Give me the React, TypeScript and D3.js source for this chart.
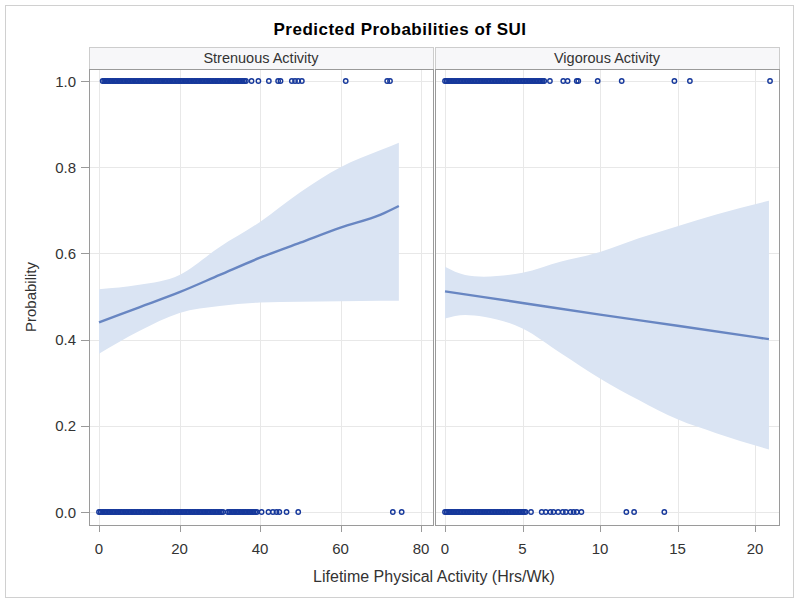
import React from "react";
import * as d3 from "d3";

// ---------- data ----------
const panels = ["Strenuous Activity", "Vigorous Activity"];
const yTicks = [0, 0.2, 0.4, 0.6, 0.8, 1.0];
const strenTicks = [0, 20, 40, 60, 80];
const vigTicks = [0, 5, 10, 15, 20];

const strenFitX = [0, 10, 20, 30, 40, 50, 60, 70, 74.5];
const strenFitP = [0.44, 0.475, 0.51, 0.55, 0.59, 0.625, 0.66, 0.69, 0.71];
const strenUpper = [0.517, 0.527, 0.55, 0.615, 0.673, 0.742, 0.8, 0.84, 0.857];
const strenLower = [0.367, 0.42, 0.462, 0.478, 0.486, 0.488, 0.489, 0.49, 0.49];

const vigFitX = [0, 5, 10, 15, 20.9];
const vigFitP = [0.512, 0.485, 0.458, 0.432, 0.401];
const vigBandX = [0, 1.3, 2.5, 5, 7.5, 10, 12.5, 15, 17.5, 20.9];
const vigUpper = [0.569, 0.55, 0.546, 0.555, 0.581, 0.603, 0.635, 0.663, 0.69, 0.722];
const vigLower = [0.449, 0.457, 0.453, 0.426, 0.368, 0.31, 0.26, 0.215, 0.183, 0.145];

// observed outcomes (1 = SUI, 0 = no SUI), hours per week
const strenYes = [
  0.9, 1.3, 1.7, 2.1, 2.5, 2.9, 3.3, 3.7, 4.1, 4.5, 4.9, 5.3, 5.7, 6.1, 6.5, 6.9, 7.3, 7.7,
  8.1, 8.5, 8.9, 9.3, 9.7, 10.1, 10.5, 10.9, 11.3, 11.7, 12.1, 12.5, 12.9, 13.3, 13.7, 14.1,
  14.5, 14.9, 15.3, 15.7, 16.1, 16.5, 16.9, 17.3, 17.7, 18.1, 18.5, 18.9, 19.3, 19.7, 20.1,
  20.5, 20.9, 21.3, 21.7, 22.1, 22.5, 22.9, 23.3, 23.7, 24.1, 24.5, 24.9, 25.3, 25.7, 26.1,
  26.5, 26.9, 27.3, 27.7, 28.1, 28.5, 28.9, 29.3, 29.7, 30.1, 30.5, 30.9, 31.3, 31.7, 32.1,
  32.5, 32.9, 33.3, 33.7, 34.1, 34.5, 34.9, 35.3, 35.7, 36.1, 36.5, 37.9, 39.6, 42.2, 44.5,
  45.1, 47.9, 48.7, 49.5, 50.4, 61.3, 71.6, 72.3,
];
const strenNo = [
  0, 0.4, 0.8, 1.2, 1.6, 2.0, 2.4, 2.8, 3.2, 3.6, 4.0, 4.4, 4.8, 5.2, 5.6, 6.0, 6.4, 6.8, 7.2,
  7.6, 8.0, 8.4, 8.8, 9.2, 9.6, 10.0, 10.4, 10.8, 11.2, 11.6, 12.0, 12.4, 12.8, 13.2, 13.6,
  14.0, 14.4, 14.8, 15.2, 15.6, 16.0, 16.4, 16.8, 17.2, 17.6, 18.0, 18.4, 18.8, 19.2, 19.6,
  20.0, 20.4, 20.8, 21.2, 21.6, 22.0, 22.4, 22.8, 23.2, 23.6, 24.0, 24.4, 24.8, 25.2, 25.6,
  26.0, 26.4, 26.8, 27.2, 27.6, 28.0, 28.4, 28.8, 29.2, 29.6, 30.0, 30.4, 30.8, 32.0, 32.4,
  32.8, 33.2, 33.6, 34.0, 34.4, 34.8, 35.2, 35.6, 36.0, 36.4, 36.8, 37.2, 37.6, 38.0, 38.4,
  38.8, 39.2, 40.4, 42.1, 43.2, 44.1, 44.8, 46.6, 49.5, 73.0, 75.2,
];
const vigYes = [
  0, 0.1, 0.2, 0.3, 0.4, 0.5, 0.6, 0.7, 0.8, 0.9, 1.0, 1.1, 1.2, 1.3, 1.4, 1.5, 1.6, 1.7,
  1.8, 1.9, 2.0, 2.1, 2.2, 2.3, 2.4, 2.5, 2.6, 2.7, 2.8, 2.9, 3.0, 3.1, 3.2, 3.3, 3.4, 3.5,
  3.6, 3.7, 3.8, 3.9, 4.0, 4.1, 4.2, 4.3, 4.4, 4.5, 4.6, 4.7, 4.8, 4.9, 5.0, 5.1, 5.2, 5.3,
  5.4, 5.5, 5.6, 5.7, 5.8, 5.9, 6.0, 6.1, 6.2, 6.3, 6.4, 6.77, 7.63, 7.91, 8.5, 8.6, 9.85,
  11.4, 14.8, 15.8, 20.97,
];
const vigNo = [
  0, 0.1, 0.2, 0.3, 0.4, 0.5, 0.6, 0.7, 0.8, 0.9, 1.0, 1.1, 1.2, 1.3, 1.4, 1.5, 1.6, 1.7,
  1.8, 1.9, 2.0, 2.1, 2.2, 2.3, 2.4, 2.5, 2.6, 2.7, 2.8, 2.9, 3.0, 3.1, 3.2, 3.3, 3.4, 3.5,
  3.6, 3.7, 3.8, 3.9, 4.0, 4.1, 4.2, 4.3, 4.4, 4.5, 4.6, 4.7, 4.8, 4.9, 5.0, 5.1, 5.2, 5.55,
  6.24, 6.5, 6.8, 7.0, 7.3, 7.6, 7.8, 8.1, 8.3, 8.5, 8.8, 11.7, 12.2, 14.15,
];

// ---------- layout ----------
const W = 800;
const H = 603;
const plotTop = 69;
const plotBottom = 525;
const headTop = 47;
const FONT = "'Liberation Sans', Arial, sans-serif";
const TXT = "#333333";
const GRID = "#e8e8e8";
const BORDER = "#9a9a9a";
const MARK = "#16389b";
const FIT = "#6886c2";
const BAND = "#dae4f3";

const y = d3.scaleLinear().domain([0, 1]).range([512, 81]);
const xS = d3.scaleLinear().domain([0, 80]).range([99, 421]);
const xV = d3.scaleLinear().domain([0, 20]).range([445, 755]);

type PanelDef = {
  name: string;
  left: number;
  right: number;
  x: d3.ScaleLinear<number, number>;
  ticks: number[];
  fitX: number[];
  fitP: number[];
  bandX: number[];
  upper: number[];
  lower: number[];
  yes: number[];
  no: number[];
};

const defs: PanelDef[] = [
  {
    name: panels[0], left: 89, right: 433, x: xS, ticks: strenTicks,
    fitX: strenFitX, fitP: strenFitP, bandX: strenFitX, upper: strenUpper, lower: strenLower,
    yes: strenYes, no: strenNo,
  },
  {
    name: panels[1], left: 435, right: 779, x: xV, ticks: vigTicks,
    fitX: vigFitX, fitP: vigFitP, bandX: vigBandX, upper: vigUpper, lower: vigLower,
    yes: vigYes, no: vigNo,
  },
];

function Panel({ d, i }: { d: PanelDef; i: number }) {
  const x = d.x;
  const band = d3
    .area<number>()
    .x((_, k) => x(d.bandX[k]))
    .y0((_, k) => y(d.lower[k]))
    .y1((_, k) => y(d.upper[k]))
    .curve(d3.curveMonotoneX)(d.bandX);
  const line = d3
    .line<number>()
    .x((_, k) => x(d.fitX[k]))
    .y((_, k) => y(d.fitP[k]))
    .curve(d3.curveMonotoneX)(d.fitX);
  const cx = (d.left + d.right) / 2;
  return (
    <g>
      <clipPath id={`clip${i}`}>
        <rect x={d.left} y={plotTop} width={d.right - d.left} height={plotBottom - plotTop} />
      </clipPath>
      {/* header */}
      <rect x={d.left + 0.5} y={headTop + 0.5} width={d.right - d.left} height={plotTop - headTop}
        fill="#f7f7f9" stroke="#cdcdcd" strokeWidth={1} />
      <text x={cx} y={58} textAnchor="middle" dominantBaseline="central"
        fontFamily={FONT} fontSize={14.5} fill={TXT}>{d.name}</text>
      {/* grid */}
      <g>
        {d.ticks.map((t) => (
          <line key={"vx" + t} x1={Math.round(x(t)) + 0.5} x2={Math.round(x(t)) + 0.5}
            y1={plotTop} y2={plotBottom} stroke={GRID} />
        ))}
        {yTicks.map((t) => (
          <line key={"hy" + t} x1={d.left} x2={d.right} y1={Math.round(y(t)) + 0.5}
            y2={Math.round(y(t)) + 0.5} stroke={GRID} />
        ))}
      </g>
      <g clipPath={`url(#clip${i})`}>
        <path d={band || ""} fill={BAND} />
        <path d={line || ""} fill="none" stroke={FIT} strokeWidth={2.4} />
        {d.no.map((v, k) => (
          <circle key={"n" + k} cx={x(v)} cy={y(0)} r={2.2} fill="none"
            stroke={MARK} strokeWidth={1.4} />
        ))}
        {d.yes.map((v, k) => (
          <circle key={"y" + k} cx={x(v)} cy={y(1)} r={2.2} fill="none"
            stroke={MARK} strokeWidth={1.4} />
        ))}
      </g>
      {/* frame */}
      <rect x={d.left + 0.5} y={plotTop + 0.5} width={d.right - d.left} height={plotBottom - plotTop}
        fill="none" stroke={BORDER} strokeWidth={1} />
      {/* x axis */}
      {d.ticks.map((t) => (
        <g key={"xt" + t}>
          <line x1={Math.round(x(t)) + 0.5} x2={Math.round(x(t)) + 0.5} y1={plotBottom}
            y2={plotBottom + 7} stroke={BORDER} />
          <text x={x(t)} y={548} textAnchor="middle" dominantBaseline="central"
            fontFamily={FONT} fontSize={15} fill={TXT}>{t}</text>
        </g>
      ))}
    </g>
  );
}

export default function App() {
  return (
    <svg width={W} height={H} viewBox={`0 0 ${W} ${H}`}
      style={{ position: "absolute", left: 0, top: 0, background: "white" }}>
      <rect x={0} y={0} width={W} height={H} fill="white" />
      <rect x={5.5} y={5.5} width={788} height={592} fill="none" stroke="#d0d0d0" />
      <text x={400} y={29} textAnchor="middle" dominantBaseline="central" fontFamily={FONT}
        fontSize={17} fontWeight="bold" letterSpacing={0.5} fill="#000">
        Predicted Probabilities of SUI
      </text>
      {defs.map((d, i) => (
        <Panel key={d.name} d={d} i={i} />
      ))}
      {/* y axis */}
      {yTicks.map((t) => (
        <g key={"yt" + t}>
          <line x1={81} x2={89} y1={Math.round(y(t)) + 0.5} y2={Math.round(y(t)) + 0.5}
            stroke={BORDER} />
          <text x={76} y={y(t)} textAnchor="end" dominantBaseline="central" fontFamily={FONT}
            fontSize={15} fill={TXT}>{t.toFixed(1)}</text>
        </g>
      ))}
      <text transform={`translate(30,${(plotTop + plotBottom) / 2}) rotate(-90)`}
        textAnchor="middle" dominantBaseline="central" fontFamily={FONT} fontSize={15}
        fill={TXT}>Probability</text>
      <text x={434} y={576} textAnchor="middle" dominantBaseline="central" fontFamily={FONT}
        fontSize={16} fill={TXT}>Lifetime Physical Activity (Hrs/Wk)</text>
    </svg>
  );
}
